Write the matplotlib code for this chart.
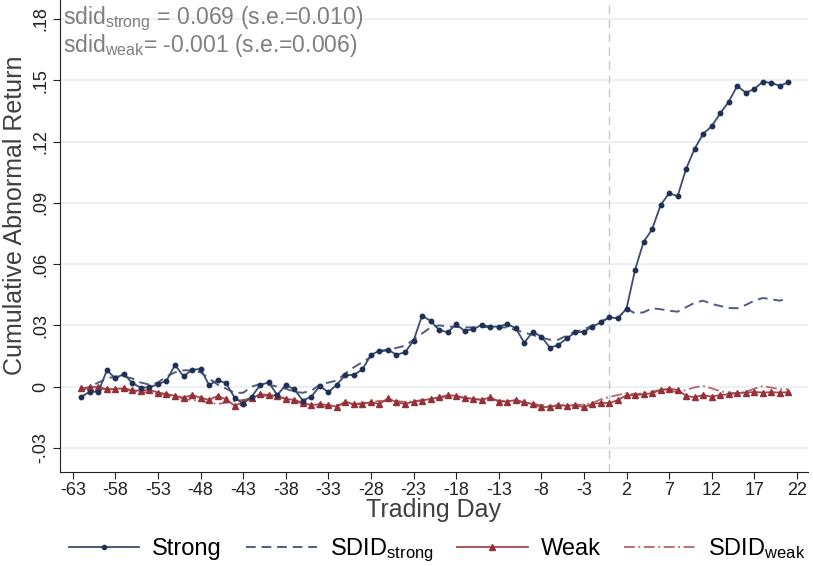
import numpy as np
import matplotlib
matplotlib.use("Agg")
import matplotlib.pyplot as plt
from matplotlib.lines import Line2D

plt.rcParams['font.family'] = ['Liberation Sans', 'DejaVu Sans']
plt.rcParams['mathtext.fontset'] = 'custom'
plt.rcParams['mathtext.rm'] = 'Liberation Sans'
plt.rcParams['mathtext.it'] = 'Liberation Sans'
plt.rcParams['axes.unicode_minus'] = False

# --- data ---
days = list(range(-62, 22))

strong = [
    -0.0050, -0.0024, -0.0026, 0.0080, 0.0041, 0.0062, 0.0017, -0.0005, -0.0003, 0.0012,   # -62..-53
    0.0029, 0.0106, 0.0051, 0.0082, 0.0087, 0.0008, 0.0031, 0.0017, -0.0054, -0.0083,      # -52..-43
    -0.0049, 0.0008, 0.0021, -0.0041, 0.0008, -0.0013, -0.0068, -0.0049, 0.0003, -0.0027,  # -42..-33
    0.0010, 0.0057, 0.0057, 0.0085, 0.0155, 0.0176, 0.0180, 0.0157, 0.0168, 0.0225,       # -32..-23
    0.0348, 0.0322, 0.0278, 0.0266, 0.0305, 0.0273, 0.0282, 0.0302, 0.0294, 0.0294,       # -22..-13
    0.0307, 0.0286, 0.0215, 0.0269, 0.0245, 0.0191, 0.0204, 0.0237, 0.0266, 0.0269,       # -12..-3
    0.0294, 0.0315, 0.0339, 0.0335, 0.0382, 0.0571, 0.0708, 0.0770, 0.0889, 0.0947,       # -2..7
    0.0933, 0.1067, 0.1165, 0.1238, 0.1275, 0.1338, 0.1395, 0.1473, 0.1439, 0.1457,       # 8..17
    0.1493, 0.1487, 0.1473, 0.1490,                                                       # 18..21
]

sdid_strong = [
    -0.0020, 0.0000, 0.0020, 0.0040, 0.0050, 0.0050, 0.0040, 0.0020, 0.0010, 0.0020,
    0.0050, 0.0070, 0.0080, 0.0080, 0.0070, 0.0040, 0.0010, -0.0010, -0.0030, -0.0030,
    0.0000, 0.0013, 0.0010, 0.0000, -0.0010, -0.0025, -0.0030, -0.0020, 0.0010, 0.0020,
    0.0030, 0.0065, 0.0095, 0.0120, 0.0145, 0.0170, 0.0180, 0.0190, 0.0200, 0.0230,
    0.0260, 0.0290, 0.0300, 0.0295, 0.0292, 0.0290, 0.0290, 0.0292, 0.0292, 0.0290,
    0.0290, 0.0277, 0.0265, 0.0253, 0.0240, 0.0230, 0.0230, 0.0250, 0.0270, 0.0280,
    0.0300, 0.0320, 0.0338, 0.0336, 0.0382, 0.0359, 0.0364, 0.0384, 0.0379, 0.0372,
    0.0367, 0.0389, 0.0411, 0.0421, 0.0405, 0.0395, 0.0385, 0.0384, 0.0400, 0.0421,
    0.0434, 0.0428, 0.0421, 0.0433,
]

weak = [
    -0.0008, -0.0003, 0.0000, -0.0013, -0.0011, -0.0008, -0.0018, -0.0020, -0.0015, -0.0029,
    -0.0036, -0.0045, -0.0054, -0.0041, -0.0054, -0.0065, -0.0045, -0.0062, -0.0094, -0.0075,
    -0.0057, -0.0037, -0.0041, -0.0044, -0.0060, -0.0065, -0.0078, -0.0090, -0.0086, -0.0090,
    -0.0098, -0.0073, -0.0086, -0.0085, -0.0076, -0.0085, -0.0057, -0.0076, -0.0085, -0.0073,
    -0.0068, -0.0060, -0.0052, -0.0042, -0.0045, -0.0054, -0.0060, -0.0065, -0.0052, -0.0073,
    -0.0073, -0.0065, -0.0076, -0.0085, -0.0101, -0.0098, -0.0090, -0.0094, -0.0090, -0.0101,
    -0.0085, -0.0079, -0.0081, -0.0065, -0.0042, -0.0042, -0.0037, -0.0032, -0.0016, -0.0010,
    -0.0016, -0.0045, -0.0052, -0.0041, -0.0049, -0.0041, -0.0037, -0.0032, -0.0029, -0.0026,
    -0.0029, -0.0027, -0.0029, -0.0027,
]

sdid_weak = [
    -0.0010, -0.0005, -0.0010, -0.0012, -0.0015, -0.0015, -0.0020, -0.0025, -0.0030, -0.0035,
    -0.0040, -0.0050, -0.0060, -0.0065, -0.0070, -0.0078, -0.0085, -0.0078, -0.0070, -0.0065,
    -0.0055, -0.0045, -0.0045, -0.0050, -0.0060, -0.0070, -0.0085, -0.0095, -0.0100, -0.0095,
    -0.0090, -0.0085, -0.0085, -0.0080, -0.0075, -0.0070, -0.0068, -0.0070, -0.0075, -0.0072,
    -0.0065, -0.0060, -0.0055, -0.0050, -0.0050, -0.0055, -0.0060, -0.0063, -0.0063, -0.0068,
    -0.0070, -0.0072, -0.0078, -0.0085, -0.0090, -0.0095, -0.0093, -0.0090, -0.0090, -0.0088,
    -0.0080, -0.0062, -0.0050, -0.0041, -0.0032, -0.0037, -0.0032, -0.0024, -0.0016, -0.0016,
    -0.0029, -0.0016, -0.0003, 0.0003, -0.0008, -0.0022, -0.0030, -0.0032, -0.0025, -0.0010,
    0.0003, -0.0005, -0.0012, -0.0013,
]

x_ticks = list(range(-63, 23, 5))
y_ticks = [-0.03, 0, 0.03, 0.06, 0.09, 0.12, 0.15, 0.18]
y_tick_labels = ["-.03", "0", ".03", ".06", ".09", ".12", ".15", ".18"]

# --- styles ---
C_STRONG = "#1f2f55"
C_STRONG_LINE = "#3d4c6e"
C_SDID_STRONG = "#4f5d80"
C_WEAK = "#963038"
C_WEAK_LINE = "#a4484f"
C_SDID_WEAK = "#b4676c"
C_TEXT = "#404040"
LS_STRONG_SDID = (0, (5, 3))
LS_WEAK_SDID = (0, (6, 2, 1, 2))

fig = plt.figure(figsize=(8.13, 5.66), dpi=100)
ax = fig.add_axes([0.0738, 0.166, 0.92, 0.834])

ax.axvline(0, color="#c8c8c8", lw=1.0, ls=(0, (6, 4)), zorder=1)

ax.plot(days, sdid_strong, color=C_SDID_STRONG, lw=1.4, ls=LS_STRONG_SDID, zorder=3)
ax.plot(days, sdid_weak, color=C_SDID_WEAK, lw=1.3, ls=LS_WEAK_SDID, zorder=3)
ax.plot(days, weak, color=C_WEAK_LINE, lw=1.3, marker="^", ms=4,
        mfc=C_WEAK, mec=C_WEAK, zorder=4)
ax.plot(days, strong, color=C_STRONG_LINE, lw=1.3, marker="o", ms=3.2,
        mfc=C_STRONG, mec=C_STRONG, zorder=5)

ax.set_xlim(-64.5, 23.3)
ax.set_ylim(-0.0418, 0.1893)
ax.set_xticks(x_ticks)
ax.set_yticks(y_ticks)
ax.set_yticklabels(y_tick_labels, rotation=90, va="center")
ax.grid(True, axis="y", color="#e6edf1", lw=1.2, zorder=0)
ax.set_axisbelow(True)

for side in ["top", "right"]:
    ax.spines[side].set_visible(False)
ax.spines["left"].set_color("#222222")
ax.spines["bottom"].set_color("#222222")
ax.tick_params(axis="both", direction="out", length=5, pad=2.5, color="#222222",
               labelsize=13, labelcolor="#222222")

ax.set_xlabel("Trading Day", fontsize=18, color=C_TEXT, labelpad=-1)
ax.set_ylabel("Cumulative Abnormal Return", fontsize=18, color=C_TEXT)
ax.yaxis.set_label_coords(-0.044, 0.545)

ax.text(0.004, 0.99,
        "sdid$_{\\mathrm{strong}}$ = 0.069 (s.e.=0.010)\n"
        "sdid$_{\\mathrm{weak}}$= -0.001 (s.e.=0.006)",
        transform=ax.transAxes, ha="left", va="top", fontsize=16.5,
        color="#7f7f7f", linespacing=0.95)

# legend
handles = [
    Line2D([], [], color=C_STRONG_LINE, lw=1.3, marker="o", ms=3,
           mfc=C_STRONG, mec=C_STRONG),
    Line2D([], [], color=C_SDID_STRONG, lw=1.4, ls=LS_STRONG_SDID),
    Line2D([], [], color=C_WEAK_LINE, lw=1.3, marker="^", ms=4,
           mfc=C_WEAK, mec=C_WEAK),
    Line2D([], [], color=C_SDID_WEAK, lw=1.3, ls=LS_WEAK_SDID),
]
labels = ["Strong", "SDID$_{\\mathrm{strong}}$", "Weak", "SDID$_{\\mathrm{weak}}$"]
fig.legend(handles, labels, loc="center", bbox_to_anchor=(0.5375, 0.028), ncol=4,
           frameon=False, prop={'size': 17}, handlelength=3.0, columnspacing=1.0,
           handletextpad=0.55, borderpad=0.2, numpoints=1)

fig.savefig("out.png", dpi=100)
